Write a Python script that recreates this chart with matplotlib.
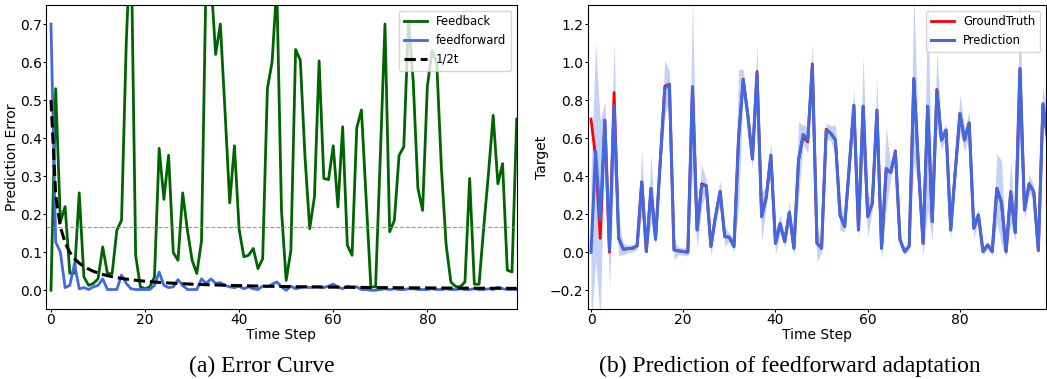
#!/usr/bin/env python3
"""Error curve + feedforward prediction, two panels side by side -> out.png."""

from __future__ import annotations

import matplotlib

matplotlib.use("Agg")
import matplotlib.pyplot as plt
import numpy as np

# --- (a) error curve ---------------------------------------------------------
feedback_err = [
    0.0, 0.53, 0.18, 0.22, 0.045, 0.045, 0.256, 0.035, 0.013, 0.018,
    0.03, 0.114, 0.044, 0.044, 0.158, 0.184, 0.65, 0.95, 0.092, 0.009,
    0.004, 0.009, 0.035, 0.373, 0.239, 0.355, 0.099, 0.079, 0.256, 0.158,
    0.079, 0.044, 0.13, 0.85, 0.82, 0.62, 0.70, 0.47, 0.23, 0.38,
    0.16, 0.088, 0.092, 0.11, 0.057, 0.083, 0.53, 0.6, 0.8, 0.21,
    0.026, 0.105, 0.633, 0.605, 0.35, 0.162, 0.245, 0.603, 0.294, 0.291,
    0.38, 0.219, 0.43, 0.118, 0.092, 0.427, 0.474, 0.24, 0.009, 0.009,
    0.35, 0.70, 0.154, 0.184, 0.355, 0.377, 0.71, 0.55, 0.268, 0.21,
    0.535, 0.63, 0.6, 0.32, 0.12, 0.022, 0.01, 0.009, 0.022, 0.294,
    0.016, 0.016, 0.167, 0.307, 0.46, 0.28, 0.333, 0.053, 0.048, 0.45,
]
feedforward_err = [
    0.70, 0.127, 0.10, 0.007, 0.013, 0.07, 0.004, 0.007, 0.002, 0.009,
    0.013, 0.03, 0.002, 0.002, 0.002, 0.04, 0.018, 0.004, 0.002, 0.002,
    0.002, 0.002, 0.013, 0.048, 0.013, 0.007, 0.009, 0.028, 0.013, 0.002,
    0.002, 0.002, 0.03, 0.018, 0.03, 0.018, 0.02, 0.013, 0.009, 0.007,
    0.011, 0.004, 0.009, 0.004, 0.002, 0.011, 0.009, 0.016, 0.022, 0.009,
    0.0, 0.011, 0.004, 0.007, 0.009, 0.007, 0.009, 0.009, 0.007, 0.011,
    0.016, 0.009, 0.004, 0.011, 0.009, 0.009, 0.002, 0.002, 0.0, 0.0,
    0.002, 0.004, 0.002, 0.004, 0.002, 0.002, 0.004, 0.004, 0.002, 0.002,
    0.002, 0.004, 0.002, 0.002, 0.004, 0.002, 0.002, 0.004, 0.002, 0.002,
    0.004, 0.002, 0.002, 0.004, 0.002, 0.008, 0.004, 0.002, 0.002, 0.002,
]
half_over_t = [
    0.5, 0.25, 0.1667, 0.125, 0.1, 0.0833, 0.0714, 0.0625, 0.0556, 0.05,
    0.0455, 0.0417, 0.0385, 0.0357, 0.0333, 0.0313, 0.0294, 0.0278, 0.0263, 0.025,
    0.0238, 0.0227, 0.0217, 0.0208, 0.02, 0.0192, 0.0185, 0.0179, 0.0172, 0.0167,
    0.0161, 0.0156, 0.0152, 0.0147, 0.0143, 0.0139, 0.0135, 0.0132, 0.0128, 0.0125,
    0.0122, 0.0119, 0.0116, 0.0114, 0.0111, 0.0109, 0.0106, 0.0104, 0.0102, 0.01,
    0.0098, 0.0096, 0.0094, 0.0093, 0.0091, 0.0089, 0.0088, 0.0086, 0.0085, 0.0083,
    0.0082, 0.0081, 0.0079, 0.0078, 0.0077, 0.0076, 0.0075, 0.0074, 0.0072, 0.0071,
    0.007, 0.0069, 0.0068, 0.0068, 0.0067, 0.0066, 0.0065, 0.0064, 0.0063, 0.0063,
    0.0062, 0.0061, 0.006, 0.006, 0.0059, 0.0058, 0.0057, 0.0057, 0.0056, 0.0056,
    0.0055, 0.0054, 0.0054, 0.0053, 0.0053, 0.0052, 0.0052, 0.0051, 0.0051, 0.005,
]
ref_level = 0.167

# --- (b) prediction of feedforward adaptation ---------------------------------
ground_truth = [
    0.70, 0.50, 0.073, 0.695, 0.0, 0.84, 0.073, 0.016, 0.019, 0.021,
    0.033, 0.37, 0.004, 0.336, 0.068, 0.47, 0.873, 0.884, 0.012, 0.007,
    0.004, 0.0, 0.87, 0.117, 0.36, 0.35, 0.03, 0.19, 0.32, 0.082,
    0.079, 0.03, 0.6, 0.91, 0.72, 0.49, 0.95, 0.187, 0.29, 0.51,
    0.047, 0.15, 0.056, 0.21, 0.021, 0.485, 0.607, 0.58, 0.99, 0.047,
    0.021, 0.647, 0.625, 0.59, 0.196, 0.135, 0.45, 0.773, 0.117, 0.768,
    0.187, 0.257, 0.747, 0.021, 0.43, 0.42, 0.533, 0.065, 0.004, 0.033,
    0.913, 0.45, 0.047, 0.768, 0.161, 0.856, 0.59, 0.642, 0.117, 0.43,
    0.73, 0.59, 0.68, 0.126, 0.196, 0.004, 0.038, 0.004, 0.336, 0.262,
    0.004, 0.318, 0.103, 0.966, 0.222, 0.36, 0.318, 0.009, 0.78, 0.6,
]
prediction = [
    0.0, 0.53, 0.17, 0.695, 0.012, 0.77, 0.073, 0.016, 0.019, 0.021,
    0.033, 0.37, 0.004, 0.336, 0.068, 0.47, 0.86, 0.884, 0.012, 0.007,
    0.004, 0.0, 0.87, 0.117, 0.35, 0.35, 0.03, 0.19, 0.32, 0.082,
    0.079, 0.03, 0.6, 0.905, 0.72, 0.49, 0.94, 0.187, 0.29, 0.51,
    0.047, 0.15, 0.056, 0.21, 0.021, 0.485, 0.62, 0.59, 0.98, 0.047,
    0.021, 0.64, 0.625, 0.59, 0.196, 0.135, 0.45, 0.773, 0.117, 0.768,
    0.187, 0.257, 0.747, 0.021, 0.441, 0.42, 0.528, 0.065, 0.004, 0.033,
    0.913, 0.45, 0.047, 0.768, 0.161, 0.852, 0.59, 0.642, 0.117, 0.43,
    0.73, 0.59, 0.68, 0.126, 0.196, 0.004, 0.038, 0.004, 0.336, 0.262,
    0.004, 0.318, 0.103, 0.966, 0.222, 0.36, 0.318, 0.009, 0.78, 0.6,
]
pred_std = [
    0.40, 0.57, 0.52, 0.10, 0.20, 0.33, 0.09, 0.03, 0.02, 0.02,
    0.02, 0.17, 0.02, 0.18, 0.03, 0.05, 0.15, 0.07, 0.05, 0.02,
    0.02, 0.02, 0.45, 0.10, 0.11, 0.03, 0.05, 0.04, 0.06, 0.05,
    0.02, 0.03, 0.36, 0.06, 0.05, 0.05, 0.15, 0.13, 0.05, 0.07,
    0.06, 0.05, 0.03, 0.06, 0.04, 0.20, 0.05, 0.07, 0.12, 0.10,
    0.02, 0.04, 0.04, 0.08, 0.08, 0.03, 0.05, 0.09, 0.05, 0.27,
    0.11, 0.03, 0.16, 0.06, 0.22, 0.03, 0.03, 0.03, 0.02, 0.02,
    0.45, 0.10, 0.07, 0.55, 0.10, 0.20, 0.05, 0.03, 0.05, 0.05,
    0.10, 0.06, 0.06, 0.05, 0.03, 0.02, 0.02, 0.02, 0.18, 0.22,
    0.03, 0.17, 0.04, 0.40, 0.05, 0.05, 0.03, 0.03, 0.10, 0.10,
]

CAPTION_FONT = ["Liberation Serif", "DejaVu Serif"]


def style_axes(ax: plt.Axes) -> None:
    """短い目盛り + 詰めたラベル (元図は縦方向が少し潰れている)."""
    ax.tick_params(axis="both", length=2.0, pad=1.0)
    ax.xaxis.labelpad = 0.5
    ax.yaxis.labelpad = 0.5


def draw_error(ax: plt.Axes) -> None:
    t = np.arange(len(feedback_err))
    ax.plot(t, feedback_err, color="darkgreen", lw=2.0, label="Feedback")
    ax.plot(t, feedforward_err, color="royalblue", lw=2.0, label="feedforward")
    ax.plot(t, half_over_t, "k--", lw=2.2, label="1/2t")
    ax.axhline(ref_level, color="gray", ls="--", lw=0.8, alpha=0.8)
    ax.set_xlim(-1, 99)
    ax.set_ylim(-0.05, 0.75)
    ax.set_xticks([0, 20, 40, 60, 80])
    ax.set_xlabel("Time Step")
    ax.set_ylabel("Prediction Error")
    ax.legend(loc="upper right", fontsize="small")
    style_axes(ax)


def draw_prediction(ax: plt.Axes) -> None:
    t = np.arange(len(prediction))
    pred = np.asarray(prediction)
    std = np.asarray(pred_std)
    ax.fill_between(t, pred - std, pred + std, color="royalblue", alpha=0.3, lw=0)
    ax.plot(t, ground_truth, color="red", lw=2.0, label="GroundTruth")
    ax.plot(t, pred, color="royalblue", lw=2.2, label="Prediction")
    ax.set_xlim(-0.72, 98.65)
    ax.set_ylim(-0.3, 1.3)
    ax.set_xticks([0, 20, 40, 60, 80])
    ax.set_yticks([-0.2, 0.0, 0.2, 0.4, 0.6, 0.8, 1.0, 1.2])
    ax.set_xlabel("Time Step")
    ax.set_ylabel("Target")
    ax.legend(loc="upper right", fontsize="small")
    style_axes(ax)


def main() -> int:
    fig = plt.figure(figsize=(10.47, 3.79), dpi=100)
    ax_a = fig.add_axes([0.0442, 0.1839, 0.4493, 0.8029])
    ax_b = fig.add_axes([0.5613, 0.1839, 0.4377, 0.8029])
    draw_error(ax_a)
    draw_prediction(ax_b)

    # サブ図キャプション (論文風の serif).
    cap_y = 1 - 366 / 379
    fig.text(262 / 1047, cap_y, "(a) Error Curve", ha="center", va="center",
             fontsize=17, family=CAPTION_FONT)
    fig.text(790 / 1047, cap_y, "(b) Prediction of feedforward adaptation",
             ha="center", va="center", fontsize=17, family=CAPTION_FONT)

    fig.savefig("out.png", dpi=100)
    plt.close(fig)
    return 0


if __name__ == "__main__":
    raise SystemExit(main())
